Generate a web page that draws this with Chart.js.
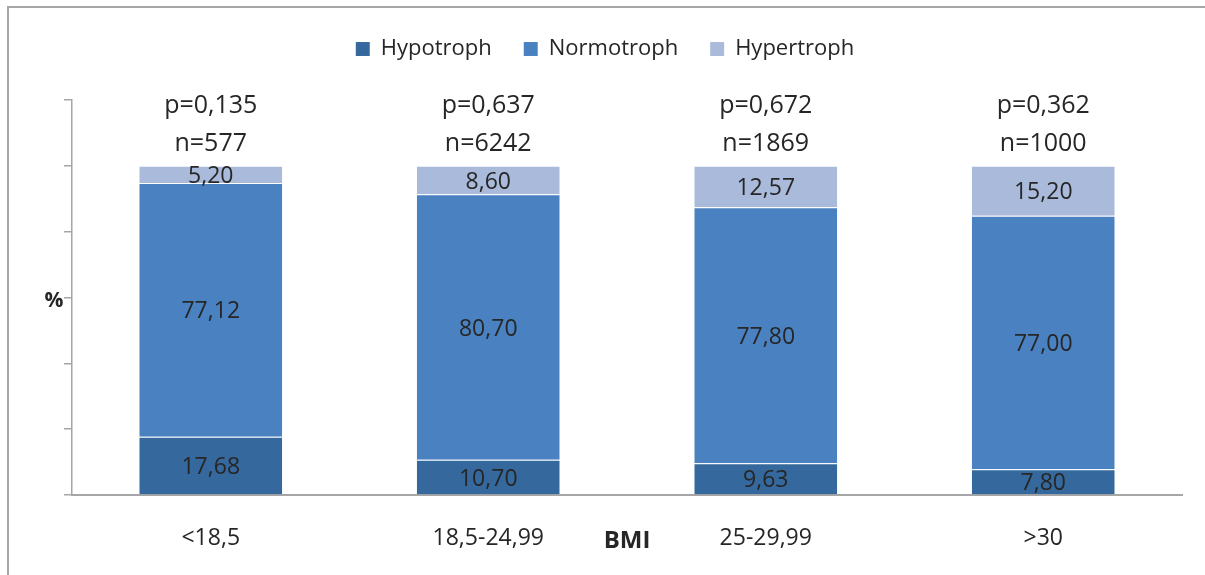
<!DOCTYPE html>
<html>
<head>
<meta charset="utf-8">
<script src="https://cdn.jsdelivr.net/npm/chart.js@4.4.1/dist/chart.umd.min.js"></script>
<style>
  html, body { margin: 0; padding: 0; background: #fff; }
  #wrap { position: relative; width: 1205px; height: 575px; overflow: hidden; }
  #frame { position: absolute; left: 7px; top: 6px; width: 1300px; height: 700px; border-left: 2px solid #a6a6a6; border-top: 2px solid #a6a6a6; }
  canvas { position: absolute; left: 0; top: 0; }
</style>
</head>
<body>
<div id="wrap">
  <div id="frame"></div>
  <canvas id="chart" width="1205" height="575"></canvas>
</div>
<script>
// Daten
const categories = ["<18,5", "18,5-24,99", "25-29,99", ">30"];
const hypotroph = [17.68, 10.70, 9.63, 7.80];
const normotroph = [77.12, 80.70, 77.80, 77.00];
const hypertroph = [5.20, 8.60, 12.57, 15.20];
const pValues = ["0,135", "0,637", "0,672", "0,362"];
const nValues = [577, 6242, 1869, 1000];

const FONT = "'Open Sans', 'Noto Sans', sans-serif";
const TEXT = "#262626";

// mehr Platz unter der Legende
const legendSpacer = {
    id: "legendSpacer",
    beforeInit(chart) {
        const fit = chart.legend.fit;
        chart.legend.fit = function () {
            fit.bind(chart.legend)();
            this.height += 30;
        };
    }
};

// Beschriftungen: Werte in den Balken, p/n oberhalb, Achsentitel
const labelsPlugin = {
    id: "labels",
    afterDatasetsDraw(chart) {
        const ctx = chart.ctx;
        const xs = chart.scales.x;
        const ys = chart.scales.y;
        ctx.save();
        ctx.fillStyle = TEXT;
        ctx.textAlign = "center";
        ctx.textBaseline = "middle";
        ctx.font = "23px " + FONT;

        chart.data.datasets.forEach((ds, i) => {
            const meta = chart.getDatasetMeta(i);
            meta.data.forEach((bar, j) => {
                const yMid = (bar.y + bar.base) / 2 + 2;
                ctx.fillText(ds.data[j].toFixed(2).replace(".", ","), bar.x, yMid);
            });
        });

        ctx.font = "25px " + FONT;
        categories.forEach((c, j) => {
            const x = xs.getPixelForValue(j);
            const top = ys.getPixelForValue(hypotroph[j] + normotroph[j] + hypertroph[j]);
            ctx.fillText("p=" + pValues[j], x, top - 60);
            ctx.fillText("n=" + nValues[j], x, top - 22);
        });

        // Achsentitel
        ctx.font = "bold 21px " + FONT;
        ctx.fillText("%", 54, ys.getPixelForValue(60) + 4);
        ctx.font = "bold 24px " + FONT;
        ctx.fillText("BMI", (chart.chartArea.left + chart.chartArea.right) / 2, 541);
        ctx.restore();
    }
};

const ctx = document.getElementById("chart").getContext("2d");

new Chart(ctx, {
    type: "bar",
    data: {
        labels: categories,
        datasets: [
            { label: "Hypotroph", data: hypotroph, backgroundColor: "#35689d" },
            { label: "Normotroph", data: normotroph, backgroundColor: "#4a81c0" },
            { label: "Hypertroph", data: hypertroph, backgroundColor: "#a9badb" }
        ]
    },
    options: {
        responsive: false,
        animation: false,
        layout: { padding: { left: 28, right: 23, top: 6, bottom: 0 } },
        datasets: {
            bar: {
                categoryPercentage: 1,
                barPercentage: 0.515,
                borderWidth: { top: 1, bottom: 0, left: 0, right: 0 },
                borderColor: "rgba(255,255,255,0.25)"
            }
        },
        plugins: {
            legend: {
                position: "top",
                labels: {
                    boxWidth: 14,
                    boxHeight: 14,
                    padding: 32,
                    color: TEXT,
                    font: { family: FONT, size: 22 }
                }
            },
            tooltip: { enabled: false }
        },
        scales: {
            x: {
                stacked: true,
                grid: { display: true, drawOnChartArea: false, drawTicks: false },
                border: { color: "#a6a6a6", width: 2 },
                ticks: { color: TEXT, padding: 30, font: { family: FONT, size: 23 } },
                afterFit(scale) { scale.height = 80; }
            },
            y: {
                stacked: true,
                min: 0,
                max: 120,
                ticks: { display: false, stepSize: 20 },
                grid: { drawOnChartArea: false, drawTicks: true, tickLength: 8, color: "#a6a6a6", lineWidth: 1.5 },
                border: { color: "#a6a6a6", width: 1.5 },
                afterFit(scale) { scale.width = 44; }
            }
        }
    },
    plugins: [legendSpacer, labelsPlugin]
});
</script>
</body>
</html>
